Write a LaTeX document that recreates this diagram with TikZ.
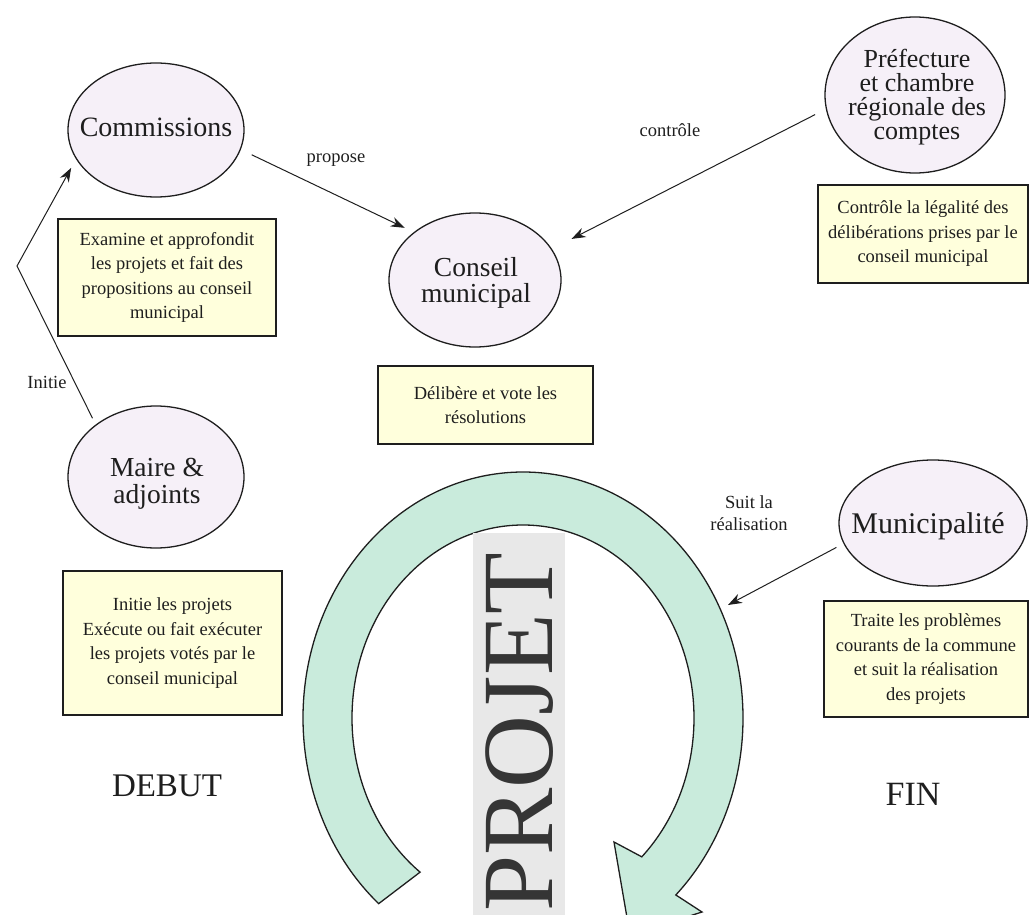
\documentclass[tikz,border=0pt]{standalone}
\usepackage{fontspec}
\setmainfont{Liberation Serif}
\usetikzlibrary{shapes.geometric,arrows.meta}
\definecolor{bubblefill}{RGB}{246,240,248}
\definecolor{notefill}{RGB}{255,255,220}
\definecolor{loopfill}{RGB}{201,235,220}
\definecolor{bandfill}{RGB}{232,232,232}
\definecolor{ink}{RGB}{30,30,30}
\begin{document}
\begin{tikzpicture}[x=1pt,y=-1pt,
  bubble/.style={ellipse, draw=ink, line width=1.3pt, fill=bubblefill, inner sep=0pt},
  bubbletext/.style={font=\fontsize{27.5}{26.5}\selectfont, align=center, text=ink, inner sep=0pt},
  note/.style={rectangle, draw=ink, line width=1.6pt, fill=notefill, align=center,
    font=\fontsize{18.5}{24.5}\selectfont, text=ink, inner sep=0pt},
  lbl/.style={font=\fontsize{18.5}{22}\selectfont, text=ink, align=center, inner sep=0pt},
  bigword/.style={font=\fontsize{33}{33}\selectfont, text=ink, inner sep=0pt},
  link/.style={draw=ink, line width=1pt, -{Stealth[length=14pt,width=10pt]}},
  loop/.style={fill=loopfill, draw=ink, line width=1.3pt, line join=miter}
]
\useasboundingbox (0,0) rectangle (1031,915);

% project loop
\path[loop] ([shift={(523,718)}]131:220 and 246)
  arc[start angle=131, end angle=406, x radius=220, y radius=246]
  -- (702,912) -- (630,935) -- (614,842)
  -- ([shift={(523,718)}]406:171 and 193)
  arc[start angle=406, end angle=127, x radius=171, y radius=193]
  -- cycle;
\fill[bandfill] (473,533) rectangle (565,915);
\node[rotate=90, anchor=base, font=\fontsize{101}{101}\selectfont, text=ink!90, inner sep=0pt] (projet) at (552,732) {PROJET};

% bubbles
\node[bubble, minimum width=176, minimum height=134] (comm) at (156,130) {};
\node[bubble, minimum width=172, minimum height=134] (cons) at (475,280) {};
\node[bubble, minimum width=180, minimum height=156] (pref) at (915,95) {};
\node[bubble, minimum width=176, minimum height=142] (maire) at (156,477) {};
\node[bubble, minimum width=188, minimum height=126] (muni) at (933,523) {};

\node[bubbletext, anchor=base, font=\fontsize{28}{28}\selectfont] (commtxt) at (156,137) {Commissions};
\node[bubbletext] (constxt) at (476,283) {Conseil\\municipal};
\node[bubbletext, font=\fontsize{26}{24}\selectfont] (preftxt) at (917,97) {Préfecture\\et chambre\\régionale des\\comptes};
\node[bubbletext] (mairetxt) at (157,484) {Maire \&\\adjoints};
\node[bubbletext, anchor=base, font=\fontsize{30}{30}\selectfont] (munitxt) at (928,533) {Municipalité};

% notes
\node[note, minimum width=218, minimum height=117] (commnote) at (167,277.5) {Examine et approfondit\\les projets et fait des\\propositions au conseil\\municipal};
\node[note, minimum width=215, minimum height=78] (consnote) at (485.5,405) {Délibère et vote les\\résolutions};
\node[note, minimum width=210, minimum height=98] (prefnote) at (923,234) {Contrôle la légalité des\\délibérations prises par le\\conseil municipal};
\node[note, minimum width=219, minimum height=144] (mairenote) at (172.5,643) {Initie les projets\\Exécute ou fait exécuter\\les projets votés par le\\conseil municipal};
\node[note, minimum width=204, minimum height=116] (muninote) at (926,659) {Traite les problèmes\\courants de la commune\\et suit la réalisation\\des projets};

% labels
\node[lbl, anchor=base] (proposelbl) at (336,163) {propose};
\node[lbl, anchor=base] (controlelbl) at (670,137) {contrôle};
\node[lbl, anchor=base] (initielbl) at (47,388) {Initie};
\node[lbl] (suitlbl) at (749,513) {Suit la\\réalisation};
\node[bigword, anchor=base] (debut) at (167,796) {DEBUT};
\node[bigword, anchor=base, font=\fontsize{34}{34}\selectfont] (fin) at (913,805) {FIN};

% connectors
\coordinate (bend) at (17,266);
\coordinate (suitpt) at (728,605);
\draw[link, shorten <=12pt, shorten >=10pt] (comm.-13) -- (cons.142);
\draw[link, shorten <=12pt, shorten >=22pt] (pref.189) -- (cons.22);
\draw[link, shorten <=8pt] (muni.193) -- (suitpt);
\draw[link, shorten <=7pt, shorten >=10pt] (maire.139) -- (bend) -- (comm.200);
\end{tikzpicture}
\end{document}
